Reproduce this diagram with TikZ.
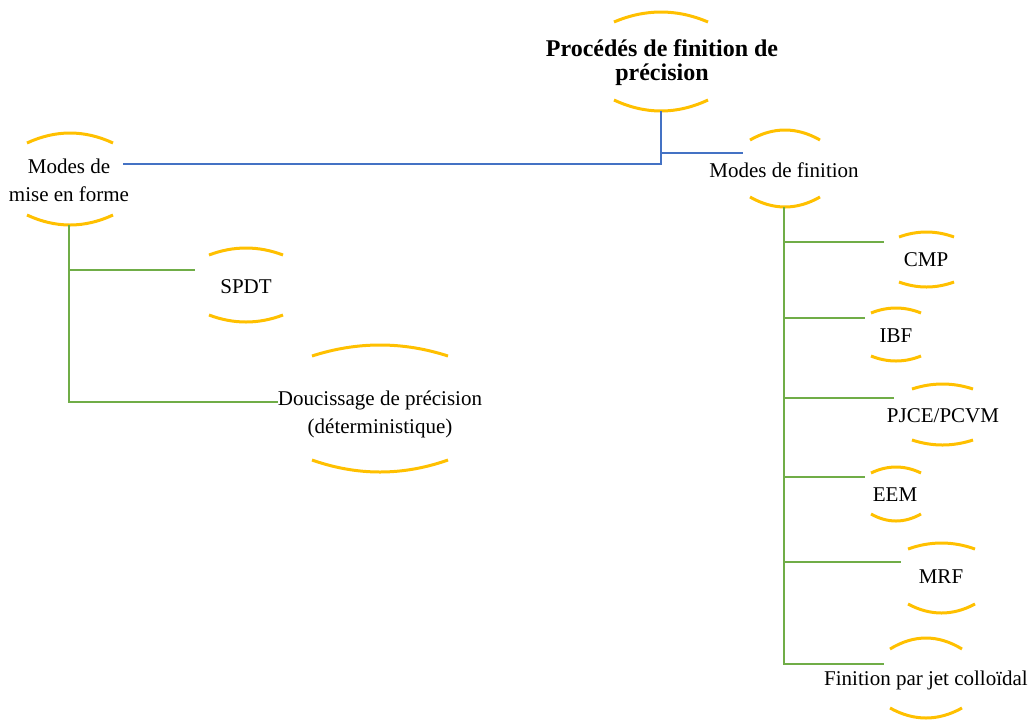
\documentclass[tikz,border=0pt]{standalone}
\usepackage{fontspec}
\setmainfont{Liberation Serif}
\definecolor{arcy}{HTML}{FFC000}
\definecolor{lblue}{HTML}{4472C4}
\definecolor{lgreen}{HTML}{70AD47}
\tikzset{
  arcst/.style={draw=arcy, line width=1.5pt},
  bline/.style={draw=lblue, line width=1.4pt},
  gline/.style={draw=lgreen, line width=1.4pt},
  lbl/.style={inner sep=0pt, align=center, font=\fontsize{10.5}{14}\selectfont},
  ttl/.style={inner sep=0pt, align=center, font=\fontsize{12}{12}\selectfont\bfseries},
}
% #1 x1, #2 x2, #3 y of ends, #4 y of apex
\newcommand\caparc[4]{\draw[arcst] (#1,#3) .. controls ({#1+(#2-#1)/3},{#3+4/3*(#4-#3)}) and ({#2-(#2-#1)/3},{#3+4/3*(#4-#3)}) .. (#2,#3);}
\begin{document}
\begin{tikzpicture}[x=0.5pt,y=-0.5pt]
\useasboundingbox (0,0) rectangle (1034,719);
% nodes
\node[ttl] (title) at (662,63) {Procédés de finition de\\précision};
\node[lbl] (mef) at (69,180) {Modes de\\mise en forme};
\node[lbl] (spdt) at (246,287) {SPDT};
\node[lbl] (douc) at (380,414) {Doucissage de précision\\(déterministique)};
\node[lbl] (mdf) at (784,170) {Modes de finition};
\node[lbl] (cmp) at (926,260) {CMP};
\node[lbl] (ibf) at (896,336) {IBF};
\node[lbl] (pjce) at (943,416) {PJCE/PCVM};
\node[lbl] (eem) at (895,495) {EEM};
\node[lbl] (mrf) at (941,577) {MRF};
\node[lbl] (fin) at (926,680) {Finition par jet colloïdal};
% arcs
\caparc{614}{708}{22}{12}  \caparc{614}{708}{100}{111}
\caparc{27}{113}{143}{133}  \caparc{27}{113}{215}{225}
\caparc{209}{283}{255}{248} \caparc{209}{283}{315}{322}
\caparc{312}{448}{356}{345} \caparc{312}{448}{460}{472}
\caparc{750}{820}{140}{130} \caparc{750}{820}{197}{207}
\caparc{899}{954}{237}{232} \caparc{899}{954}{282}{287}
\caparc{871}{921}{313}{308} \caparc{871}{921}{356}{361}
\caparc{912}{973}{389}{384} \caparc{912}{973}{440}{445}
\caparc{871}{921}{473}{467} \caparc{871}{921}{514}{521}
\caparc{908}{975}{549}{543} \caparc{908}{975}{604}{613}
\caparc{890}{962}{649}{638} \caparc{890}{962}{708}{718}
% connector end points
\coordinate (titleb) at (661,111);
\coordinate (mefr) at (123,164);
\coordinate (mdfl) at (743,153);
\coordinate (mefb) at (69,225);
\coordinate (spdtl) at (195,270);
\coordinate (doucl) at (278,402);
\coordinate (mdfb) at (784,207);
\coordinate (cmpl) at (884,242);
\coordinate (ibfl) at (865,318);
\coordinate (pjcel) at (894,398);
\coordinate (eeml) at (865,477);
\coordinate (mrfl) at (901,562);
\coordinate (finl) at (884,664);
% blue connectors
\draw[bline] (titleb) |- (mefr);
\draw[bline] (titleb) |- (mdfl);
% green connectors
\draw[gline] (mefb) |- (spdtl);
\draw[gline] (mefb) |- (doucl);
\draw[gline] (mdfb) |- (cmpl);
\draw[gline] (mdfb) |- (ibfl);
\draw[gline] (mdfb) |- (pjcel);
\draw[gline] (mdfb) |- (eeml);
\draw[gline] (mdfb) |- (mrfl);
\draw[gline] (mdfb) |- (finl);
\end{tikzpicture}
\end{document}
